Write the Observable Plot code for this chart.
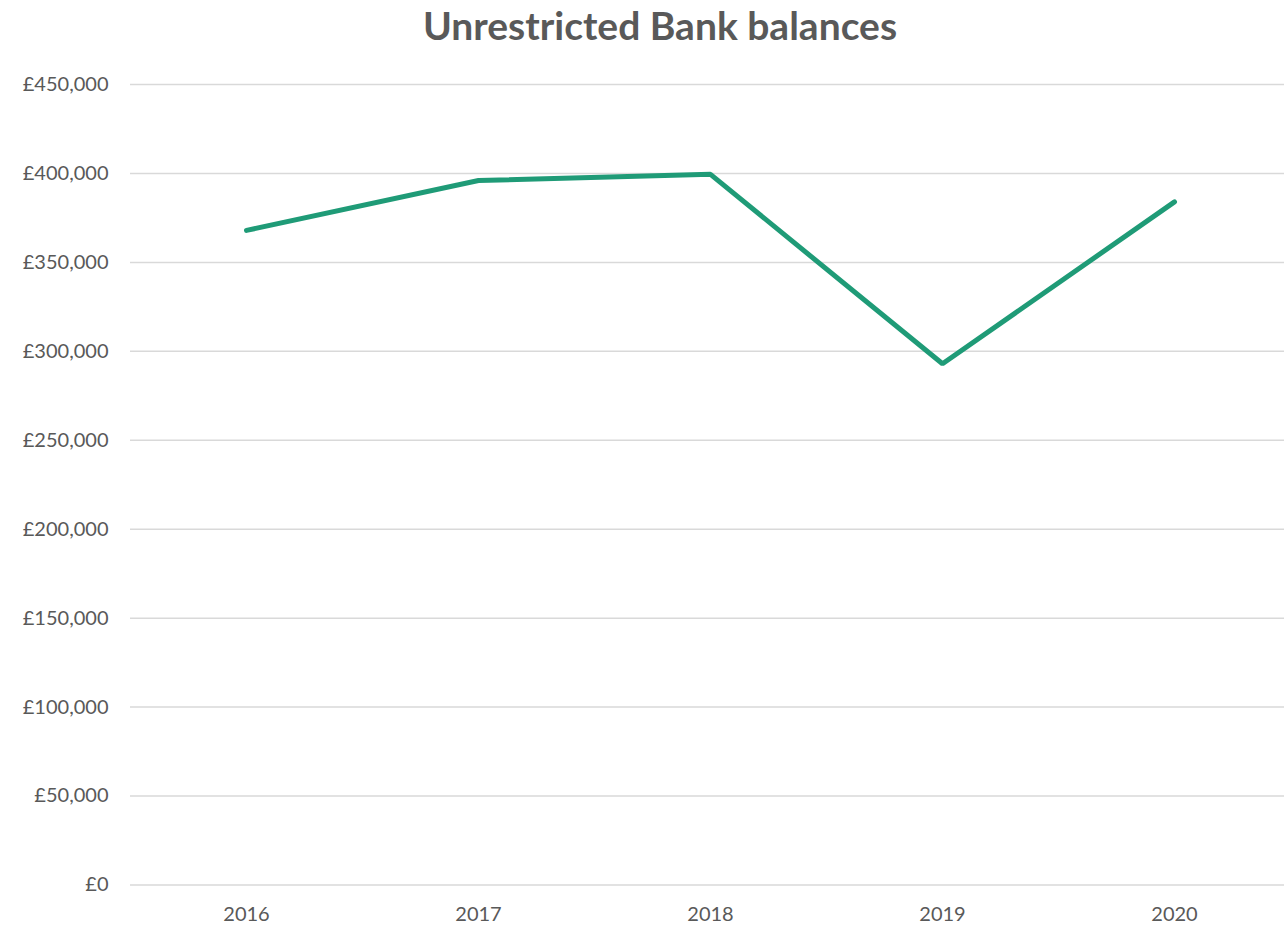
<!DOCTYPE html>
<html>
<head>
<meta charset="utf-8">
<script src="https://cdn.jsdelivr.net/npm/d3@7"></script>
<script src="https://cdn.jsdelivr.net/npm/@observablehq/plot@0.6"></script>
<style>
  html, body { margin: 0; padding: 0; background: #fff; }
  #title { height: 60px; line-height: 50px; text-align: center; font-family: Lato, "Open Sans", sans-serif; font-weight: bold; font-size: 39px; color: #595959; padding-left: 36px; }
</style>
</head>
<body>
<div id="title">Unrestricted Bank balances</div>
<div id="chart"></div>
<script>
const years = ["2016", "2017", "2018", "2019", "2020"];
const balances = [368000, 396000, 399500, 293000, 384000];
const yTicks = [0, 50000, 100000, 150000, 200000, 250000, 300000, 350000, 400000, 450000];

const data = years.map((y, i) => ({year: y, value: balances[i]}));

const chart = Plot.plot({
  width: 1284,
  height: 868,
  marginLeft: 130,
  marginRight: 0,
  marginTop: 24,
  marginBottom: 43.5,
  style: { fontFamily: "Lato, 'Open Sans', sans-serif", fontSize: "20px", color: "#595959", background: "#fff" },
  x: { type: "point", domain: years, range: [130, 1290], padding: 0.5, label: null },
  y: { domain: [0, 450000], label: null },
  marks: [
    Plot.ruleY(yTicks, { stroke: "#d9d9d9", strokeWidth: 1.5 }),
    Plot.axisY({ ticks: yTicks, tickSize: 0, tickPadding: 22, tickFormat: d => "£" + d3.format(",")(d), label: null, fontSize: 20 }),
    Plot.axisX({ tickSize: 0, tickPadding: 22, label: null, fontSize: 20 }),
    Plot.line(data, { x: "year", y: "value", stroke: "#1f9b77", strokeWidth: 5, strokeLinecap: "round", strokeLinejoin: "miter" })
  ]
});
document.getElementById("chart").appendChild(chart);
</script>
</body>
</html>
